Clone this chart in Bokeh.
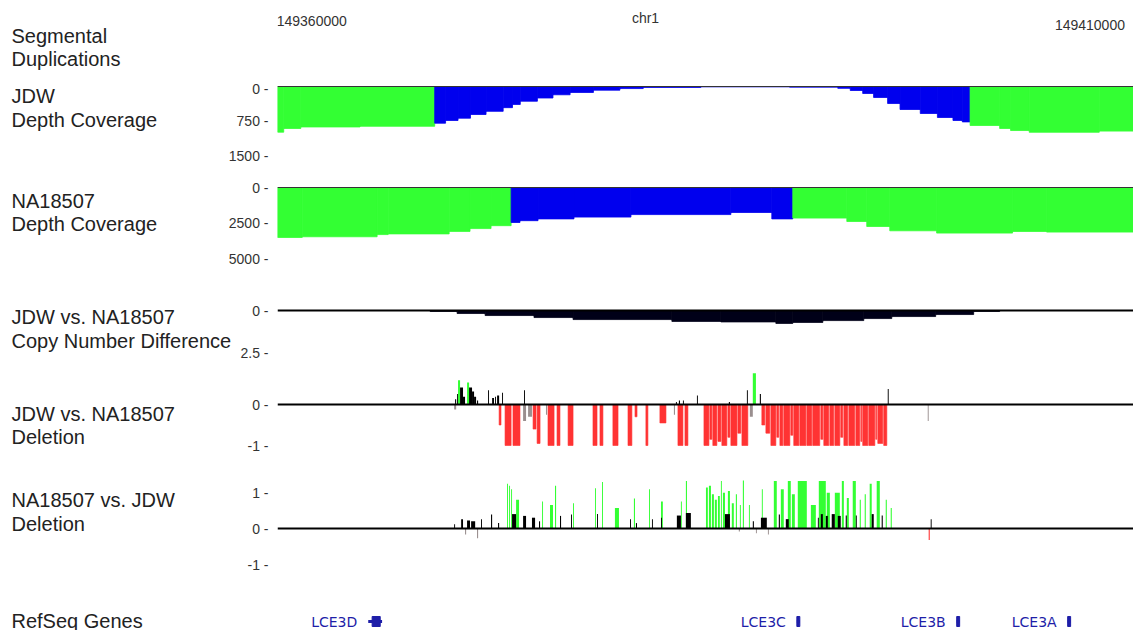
from bokeh.plotting import figure
from bokeh.models import Range1d, LinearAxis, FixedTicker, Label, ColumnDataSource, Span
from bokeh.layouts import column, row
from bokeh.embed import file_html
from bokeh.resources import INLINE
from bokeh.core.properties import value

# ---------------- data ----------------
chrom = "chr1"
view_start = 149357800
view_end = 149412800
ruler_ticks = [149360000, 149410000]

# JDW read-depth (step function: value holds from pos[i] to pos[i+1])
jdw_pos = [149357800, 149358200, 149359300, 149363100, 149367900, 149368600, 149369400, 149370200,
           149371200, 149372300, 149372900, 149373400, 149374500, 149375500, 149376600, 149378100,
           149379800, 149381300, 149385000, 149390700, 149393800, 149394600, 149395400, 149396100,
           149397000, 149397800, 149399100, 149400200, 149401200, 149401800, 149402300, 149404200,
           149404900, 149406100, 149410600, 149412800]
jdw_val = [993, 913, 880, 865, 798, 739, 689, 609, 540, 460, 390, 320, 250, 180, 130, 80, 45, 22, 8,
           15, 40, 87, 152, 239, 370, 500, 587, 674, 739, 770, 848, 913, 957, 995, 970]
jdw_dup_start = [149357800, 149402300]
jdw_dup_end = [149367900, 149412800]
jdw_ticks = [0, 750, 1500]

# NA18507 read-depth
na_pos = [149357800, 149359390, 149364200, 149364910, 149368830, 149370170, 149371520, 149372810,
          149373380, 149374540, 149376850, 149380510, 149386930, 149389560, 149390910, 149394380,
          149395660, 149397140, 149400150, 149405030, 149407220, 149412800]
na_val = [3520, 3470, 3316, 3267, 3091, 2893, 2689, 2464, 2337, 2211, 2084, 1908, 1760, 2211, 2154,
          2394, 2746, 3048, 3210, 3098, 3140]
na_dup_start = [149357800, 149390910]
na_dup_end = [149372810, 149412800]
na_ticks = [0, 2500, 5000]

# Copy number difference
cn_pos = [149367610, 149369340, 149371140, 149374280, 149376790, 149383140, 149386290, 149389820,
          149390910, 149392840, 149395470, 149397270, 149400090, 149402530, 149404200]
cn_val = [0.06, 0.18, 0.30, 0.42, 0.54, 0.65, 0.68, 0.77, 0.71, 0.60, 0.48, 0.36, 0.24, 0.06]
cn_ticks = [0, 2.5]

del_ticks = [1, 0, -1]

# JDW vs NA18507 deletion
d1g_start = [149369400, 149369980, 149388340]
d1g_end = [149369530, 149370110, 149388540]
d1g_val = [0.93, 0.85, 1.2]
d1k_start = [149369210, 149369340, 149369530, 149369720, 149370110, 149370300, 149370430, 149370620,
             149371330, 149371590, 149371780, 149371910, 149372230, 149373640, 149383400, 149383590,
             149383850, 149384750, 149386800, 149387960, 149388790, 149397010]
d1k_end = [149369280, 149369400, 149369720, 149369850, 149370300, 149370430, 149370560, 149370690,
           149371390, 149371710, 149371840, 149372040, 149372290, 149373700, 149383460, 149383660,
           149383910, 149384810, 149386870, 149388020, 149388860, 149397070]
d1k_val = [0.2, 0.4, 0.65, 0.3, 0.65, 0.5, 0.3, 0.15, 0.55, 0.25, 0.3, 0.35, 0.45, 0.55, 0.1, 0.15,
           0.15, 0.35, 0.1, 0.55, 0.4, 0.6]
d1s_start = [149369150, 149373580, 149373900, 149375050, 149383270, 149388150, 149399580]
d1s_end = [149369280, 149373770, 149374150, 149375120, 149383340, 149388340, 149399640]
d1s_val = [-0.12, -0.4, -0.3, -0.25, -0.25, -0.3, -0.4]
d1r_start = [149372040, 149372420, 149372930, 149374220, 149374480, 149375180, 149375760, 149376470,
             149378070, 149378520, 149379350, 149380320, 149380770, 149381470, 149382370, 149383530,
             149383980, 149385200, 149385580, 149385770, 149386100, 149386350, 149386740, 149386930,
             149387380, 149387640, 149388920, 149389180, 149389500, 149389880, 149390080, 149390330,
             149390780, 149390970, 149391360, 149391810, 149392190, 149392710, 149392900, 149393290,
             149393610, 149393990, 149394190, 149394510, 149394960, 149395280, 149395400, 149395790,
             149396240, 149396370, 149396750]
d1r_end = [149372160, 149372810, 149373380, 149374410, 149374670, 149375570, 149375950, 149376790,
           149378330, 149378710, 149379680, 149380570, 149380900, 149381600, 149382760, 149383850,
           149384170, 149385520, 149385710, 149386030, 149386290, 149386670, 149386870, 149387320,
           149387570, 149388020, 149389110, 149389430, 149389820, 149390010, 149390270, 149390720,
           149390910, 149391300, 149391750, 149392130, 149392640, 149392840, 149393220, 149393540,
           149393930, 149394120, 149394440, 149394890, 149395210, 149395340, 149395730, 149396180,
           149396300, 149396690, 149396950]
d1r_val = [-0.5, -1, -1, -0.6, -0.95, -1, -1, -1, -1, -1, -1, -1, -0.3, -1, -0.45, -1, -1, -1, -0.85,
           -1, -0.9, -1, -0.8, -1, -0.7, -1, -0.5, -0.7, -1, -0.8, -1, -1, -0.75, -1, -1, -1, -1,
           -0.85, -1, -1, -1, -0.8, -1, -1, -1, -0.9, -1, -1, -0.85, -0.95, -1]

# NA18507 vs JDW deletion
d2g_start = [149372550, 149372680, 149372810, 149373130, 149374800, 149375310, 149375630, 149376790,
             149378200, 149378650, 149379480, 149380700, 149381670, 149382440, 149383720, 149384040,
             149385330, 149385520, 149385710, 149385900, 149386100, 149386290, 149386420, 149386740,
             149386990, 149387250, 149387510, 149387700, 149388090, 149388920, 149389690, 149390140,
             149390590, 149390850, 149391230, 149392070, 149392580, 149393090, 149393610, 149394060,
             149394380, 149394760, 149395210, 149395530, 149395850, 149396300, 149396880, 149397200]
d2g_end = [149372610, 149372740, 149372870, 149373320, 149374860, 149375500, 149375700, 149376850,
           149378260, 149378710, 149379740, 149380770, 149381730, 149382560, 149383780, 149384110,
           149385450, 149385650, 149385840, 149386030, 149386220, 149386350, 149386550, 149386870,
           149387120, 149387320, 149387570, 149387770, 149388150, 149388980, 149389880, 149390330,
           149390780, 149391040, 149391810, 149392390, 149393030, 149393290, 149393930, 149394190,
           149394510, 149394960, 149395280, 149395600, 149395980, 149396500, 149396950, 149397270]
d2g_val = [1.24, 1.19, 1.09, 0.8, 0.75, 0.65, 1.19, 0.7, 1.12, 1.29, 0.57, 0.83, 1.09, 0.75, 0.75,
           1.32, 1.14, 1.19, 0.95, 0.8, 0.9, 1.32, 0.99, 1.04, 0.7, 0.95, 0.65, 1.33, 0.65, 1.09, 1.32,
           1.09, 1.32, 0.95, 1.32, 0.65, 1.32, 0.99, 0.99, 1.32, 0.85, 1.32, 0.8, 0.95, 1.24, 1.32,
           0.8, 0.57]
d2k_start = [149369150, 149369600, 149369980, 149370240, 149370880, 149371520, 149371970, 149372870,
             149373580, 149374150, 149374600, 149375950, 149376660, 149378330, 149380450, 149380830,
             149381860, 149382440, 149383460, 149384040, 149386550, 149388340, 149388860, 149390010,
             149390460, 149392520, 149392710, 149393030, 149393410, 149393800, 149394310, 149394960,
             149395980, 149396620, 149399770]
d2k_end = [149369210, 149369720, 149370170, 149370500, 149370940, 149371590, 149372040, 149373130,
           149373770, 149374350, 149374670, 149376020, 149376720, 149378390, 149380510, 149380900,
           149381920, 149382500, 149383720, 149384360, 149386870, 149388410, 149389240, 149390080,
           149390650, 149392580, 149392840, 149393160, 149393610, 149393990, 149394380, 149395020,
           149396110, 149396690, 149399830]
d2k_val = [0.12, 0.26, 0.22, 0.2, 0.26, 0.39, 0.15, 0.4, 0.35, 0.3, 0.2, 0.35, 0.39, 0.4, 0.26, 0.15,
           0.26, 0.3, 0.36, 0.43, 0.4, 0.2, 0.3, 0.39, 0.26, 0.3, 0.4, 0.35, 0.4, 0.35, 0.36, 0.36,
           0.4, 0.36, 0.26]
d2s_start = [149369850, 149370620, 149387440, 149388540, 149389310]
d2s_end = [149369920, 149370690, 149387510, 149388600, 149389370]
d2s_val = [-0.17, -0.27, -0.08, -0.13, -0.17]
d2r_start = [149399640]
d2r_end = [149399710]
d2r_val = [-0.32]

# RefSeq genes
gene_names = ["LCE3D", "LCE3C", "LCE3B", "LCE3A"]
gene_start = [149363630, 149391170, 149401440, 149408570]
gene_end = [149364520, 149391360, 149401630, 149408760]
gene_thick_start = [149363880, 149391170, 149401440, 149408570]
gene_thick_end = [149364400, 149391360, 149401630, 149408760]

# ---------------- style / layout ----------------
W = 1133
LEFT = 277
FONT = "Liberation Sans"
GREEN = "#33ff33"
BLUE = "#0000ee"
RED = "#ff3333"
GRAY = "#9a8f8f"
BLACK = "#000000"
CN_FILL = "#000018"
GENE = "#1e1ea8"
TXT = "#222222"
TICK = "#333333"

xr = Range1d(view_start, view_end)


def make(top, bottom, name_w, zero=None, ppu=None):
    """Returns (name panel, track panel) for the page band [top, bottom)."""
    h = bottom - top
    if zero is None:
        yrng = Range1d(0, 1)
    else:
        yrng = Range1d(start=(bottom - zero) / ppu, end=(top - zero) / ppu)
    p = figure(width=W - name_w, height=h, x_range=xr, y_range=yrng,
               x_axis_type=None, y_axis_type=None, toolbar_location=None,
               output_backend="svg", min_border_left=LEFT - name_w, min_border_right=0,
               min_border_top=0, min_border_bottom=0)
    n = figure(width=name_w, height=h, x_range=Range1d(0, name_w), y_range=Range1d(0, h),
               x_axis_type=None, y_axis_type=None, toolbar_location=None,
               output_backend="svg", min_border=0)
    for f in (p, n):
        f.outline_line_color = None
        f.background_fill_color = "white"
        f.border_fill_color = "white"
    return n, p


def name(n, top, bottom, lines, ys):
    for s, yy in zip(lines, ys):
        n.add_layout(Label(x=11, y=bottom - yy, x_units="screen", y_units="screen",
                           text=s, text_font=FONT, text_font_size="20px", text_color=TXT,
                           text_align="left", text_baseline="middle"))


def axis(p, ticks):
    ax = LinearAxis(ticker=FixedTicker(ticks=ticks),
                    major_label_overrides={t: f"{t:g} -" for t in ticks},
                    axis_line_color=None, major_tick_line_color=None,
                    minor_tick_line_color=None, major_tick_in=0, major_tick_out=0,
                    major_label_standoff=9, major_label_text_font=FONT,
                    major_label_text_font_size="14px", major_label_text_color=TICK)
    p.add_layout(ax, "left")


def in_dup(l, r, ds, de):
    return any(a <= l and r <= b for a, b in zip(ds, de))


def depth(p, pos, val, ds, de):
    left, right = pos[:-1], pos[1:]
    col = [GREEN if in_dup(l, r, ds, de) else BLUE for l, r in zip(left, right)]
    src = ColumnDataSource(dict(left=left, right=right, bottom=val, color=col))
    p.quad(left="left", right="right", top=0, bottom="bottom", fill_color="color",
           line_color="color", line_width=0.8, source=src)
    p.add_layout(Span(location=0, dimension="width", line_color="#333333", line_width=1.2))


def bars(p, s, e, v, color, lw=0, **kw):
    p.quad(left=s, right=e, bottom=0, top=v, fill_color=color,
           line_color=color if lw else None, line_width=lw or 1, **kw)


rows = []

# header
n0, f0 = make(0, 80, 240)
f0.add_layout(Label(x=645 - LEFT, y=80 - 17, x_units="screen", y_units="screen", text=chrom,
                    text_font=FONT, text_font_size="14px", text_color=TICK,
                    text_align="center", text_baseline="middle"))
for t, yy in zip(ruler_ticks, [20, 24]):
    f0.add_layout(Label(x=t, y=80 - yy, x_units="data", y_units="screen", text=str(t),
                        text_font=FONT, text_font_size="14px", text_color=TICK,
                        text_align="center", text_baseline="middle"))
name(n0, 0, 80, ["Segmental", "Duplications"], [35, 58])
rows.append(row(n0, f0, spacing=0))

# JDW depth
n1, f1 = make(80, 170, 225, zero=86, ppu=69 / 1500)
depth(f1, jdw_pos, jdw_val, jdw_dup_start, jdw_dup_end)
axis(f1, jdw_ticks)
name(n1, 80, 170, ["JDW", "Depth Coverage"], [95, 119])
rows.append(row(n1, f1, spacing=0))

# NA18507 depth
n2, f2 = make(170, 280, 225, zero=187, ppu=71 / 5000)
depth(f2, na_pos, na_val, na_dup_start, na_dup_end)
axis(f2, na_ticks)
name(n2, 170, 280, ["NA18507", "Depth Coverage"], [200, 223])
rows.append(row(n2, f2, spacing=0))

# copy number difference
n3, f3 = make(280, 365, 237, zero=310, ppu=42 / 2.5)
cn_src = ColumnDataSource(dict(left=cn_pos[:-1], right=cn_pos[1:], bottom=cn_val))
f3.quad(left="left", right="right", top=0, bottom="bottom", fill_color=CN_FILL,
        line_color=CN_FILL, line_width=0.8, source=cn_src)
f3.add_layout(Span(location=0, dimension="width", line_color=BLACK, line_width=2))
axis(f3, cn_ticks)
name(n3, 280, 365, ["JDW vs. NA18507", "Copy Number Difference"], [316, 340])
rows.append(row(n3, f3, spacing=0))

# JDW vs NA18507 deletion (positive part on its own scale)
n4, f4 = make(365, 470, 225, zero=404, ppu=-41)
f4.extra_y_ranges = {"pos": Range1d(start=(470 - 404) / -26, end=(365 - 404) / -26)}
bars(f4, d1r_start, d1r_end, d1r_val, RED, lw=0.6)
bars(f4, d1s_start, d1s_end, d1s_val, GRAY)
bars(f4, d1g_start, d1g_end, d1g_val, GREEN, y_range_name="pos")
bars(f4, d1k_start, d1k_end, d1k_val, BLACK, y_range_name="pos")
f4.add_layout(Span(location=0, dimension="width", line_color=BLACK, line_width=2))
axis(f4, [t for t in del_ticks if t <= 0])
f4.add_layout(Label(x=-9, y=del_ticks[0], x_units="screen", y_units="data", y_range_name="pos",
                    text=f"{del_ticks[0]:g} -", text_font=FONT, text_font_size="14px",
                    text_color=TICK, text_align="right", text_baseline="middle"))
name(n4, 365, 470, ["JDW vs. NA18507", "Deletion"], [413, 436])
rows.append(row(n4, f4, spacing=0))

# NA18507 vs JDW deletion
n5, f5 = make(470, 575, 225, zero=528, ppu=-36)
bars(f5, d2g_start, d2g_end, d2g_val, GREEN)
bars(f5, d2k_start, d2k_end, d2k_val, BLACK)
bars(f5, d2s_start, d2s_end, d2s_val, GRAY)
bars(f5, d2r_start, d2r_end, d2r_val, RED)
f5.add_layout(Span(location=0, dimension="width", line_color=BLACK, line_width=2))
axis(f5, del_ticks)
name(n5, 470, 575, ["NA18507 vs. JDW", "Deletion"], [499, 523])
rows.append(row(n5, f5, spacing=0))

# RefSeq genes
n6, f6 = make(575, 630, 240, zero=621, ppu=-1)
f6.quad(left=gene_start, right=gene_end, top=1.5, bottom=-1.5, fill_color=GENE, line_color=None)
f6.quad(left=gene_thick_start, right=gene_thick_end, top=5, bottom=-5, fill_color=GENE,
        line_color=GENE, line_width=1)
gsrc = ColumnDataSource(dict(x=gene_start, name=gene_names))
f6.text(x="x", y=0, text="name", source=gsrc, text_align="right", text_baseline="middle",
        x_offset=-11, text_font=value("DejaVu Sans"), text_font_size="14px", text_color=GENE)
name(n6, 575, 630, ["RefSeq Genes"], [620])
rows.append(row(n6, f6, spacing=0))

layout = column(*rows, spacing=0)
open("out.html", "w").write(file_html(layout, INLINE))
